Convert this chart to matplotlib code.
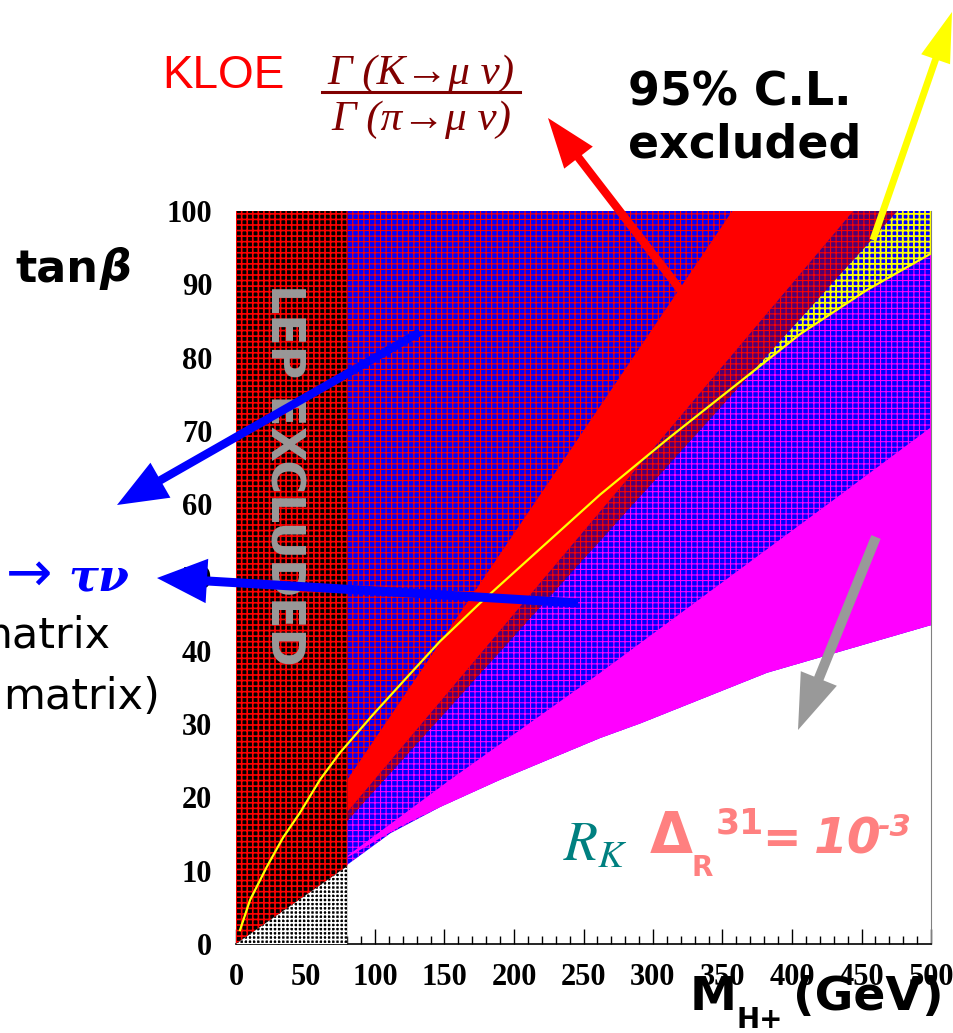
import matplotlib
matplotlib.use('Agg')
import matplotlib.pyplot as plt
import numpy as np
from matplotlib.lines import Line2D
from matplotlib.ticker import MultipleLocator

W, H = 954, 1033

# region boundaries in (M_H+ [GeV], tan beta)
lep_floor_x = [0, 80]
lep_floor_y = [0, 10.6]

kloe_left_x = [80, 357]
kloe_left_y = [22.4, 100]
kloe_right_x = [80, 444]
kloe_right_y = [18.0, 100]

split_x = [80, 476]
split_y = [16.8, 100]

rk_low_x = [80, 111, 147, 190, 219, 262, 291, 382, 500]
rk_low_y = [10.8, 15.1, 18.7, 22.4, 24.7, 28.1, 30.1, 37.0, 43.5]
pink_low_x = [80, 118, 147, 190, 219, 262, 291, 382, 500]
pink_low_y = [11.8, 16.0, 18.7, 22.4, 24.7, 28.1, 30.1, 37.0, 43.5]
pink_up_x = [80, 154, 262, 430, 500]
pink_up_y = [12.0, 22.4, 37.0, 60.6, 70.5]

yel_top_x = [367, 476, 500]
yel_top_y = [77.1, 100, 100]

btau_x = np.array([2.9, 10.1, 22.1, 33.8, 46, 60.4, 74.8, 98.6, 122.6, 146.8,
                   175.5, 261.9, 309.9, 357.9, 405.8, 453.7, 500])
btau_y = np.array([1.9, 6.0, 10.5, 14.5, 17.9, 22.4, 26.1, 31.3, 36.3, 41.3,
                   46.5, 61.3, 68.8, 76.0, 83.2, 89.2, 94.2])

x_ticks = np.arange(0, 501, 50)
y_ticks = np.arange(0, 101, 10)

plt.rcParams['mathtext.fontset'] = 'stix'

fig = plt.figure(figsize=(W / 100, H / 100), dpi=100)
ax = fig.add_axes([236 / W, 89 / H, 695 / W, 733 / H])
ax.set_xlim(0, 500)
ax.set_ylim(0, 100)


def region(xs, ys, face, hatch_col, z, hatch='+++', hlw=0.8):
    with plt.rc_context({'hatch.linewidth': hlw}):
        ax.fill(xs, ys, facecolor=face, edgecolor=hatch_col, hatch=hatch,
                lw=0, zorder=z)


# blue areas with the different hatchings
region(rk_low_x + [500, 80], rk_low_y + [100, 100], '#0000ff', '#ff00ff', 3.0)
region(split_x + [80], split_y + [100], '#0000ff', '#ff0000', 3.1)
region(split_x + kloe_right_x[::-1], split_y + kloe_right_y[::-1],
       '#500070', '#ff0000', 3.2)
sel = btau_x > yel_top_x[0]
region(yel_top_x + list(btau_x[sel][::-1]), yel_top_y + list(btau_y[sel][::-1]),
       '#0000ff', '#ffff00', 3.3, hlw=1.3)

# R_K band
ax.fill(pink_up_x + pink_low_x[::-1], pink_up_y + pink_low_y[::-1],
        color='#ff00ff', lw=0, zorder=3.4)

# KLOE band
ax.fill(kloe_left_x + kloe_right_x[::-1], kloe_left_y + kloe_right_y[::-1],
        color='#ff0000', lw=0, zorder=3.5)

# LEP exclusion
region(lep_floor_x + [80, 0], lep_floor_y + [100, 100], '#000000', '#ff0000',
       3.6, hlw=1.2)
region(lep_floor_x + [80], lep_floor_y + [0], '#000000', '#ffffff', 3.6,
       hatch='++++', hlw=1.2)

# B -> tau nu curve
ax.plot(btau_x, btau_y, color='#ffff00', lw=1.6, zorder=4)

ax.text(34, 64, 'LEP EXCLUDED', rotation=270, ha='center', va='center',
        color='#999999', fontsize=33, fontweight='bold', zorder=5)

# axes cosmetics
ax.set_xticks(x_ticks)
ax.set_yticks(y_ticks)
ax.xaxis.set_minor_locator(MultipleLocator(10))
ax.tick_params(axis='x', which='major', direction='in', length=11, width=1,
               pad=14, labelsize=22)
ax.tick_params(axis='x', which='minor', direction='in', length=6, width=1)
ax.tick_params(axis='y', length=0, pad=17, labelsize=22)
for lbl in ax.get_xticklabels() + ax.get_yticklabels():
    lbl.set_family('Liberation Serif')
    lbl.set_fontweight('bold')
ax.spines['top'].set_visible(False)
ax.spines['left'].set_visible(False)
ax.spines['right'].set_color('#808080')
ax.spines['bottom'].set_linewidth(1.2)


def ftext(x, y, s, **kw):
    fig.text(x / W, 1 - y / H, s, **kw)


serif = ['Liberation Serif', 'DejaVu Serif']
dark_red = '#800000'
ftext(162, 76, 'KLOE', color='#ff0000', fontsize=33, va='center',
      family='Liberation Sans')
ftext(421, 74, 'Γ (K→μ ν)', color=dark_red, fontsize=31, ha='center',
      va='center', family=serif, style='italic')
ftext(421, 120, 'Γ (π→μ ν)', color=dark_red, fontsize=31, ha='center',
      va='center', family=serif, style='italic')
fig.add_artist(Line2D([322 / W, 520 / W], [1 - 92 / H, 1 - 92 / H],
                      color=dark_red, lw=2.2))

ftext(628, 93, '95% C.L.', fontsize=33, fontweight='bold', va='center')
ftext(628, 145, 'excluded', fontsize=33, fontweight='bold', va='center')

ftext(15, 270, 'tan', fontsize=32, fontweight='bold', va='center')
ftext(100, 268, 'β', fontsize=32, fontweight='bold', style='italic', va='center')

ftext(6, 576, '→', fontsize=40, color='#0000ff', va='center')
ftext(68, 578, 'τν', fontsize=32, color='#0000ff', va='center',
      family='DejaVu Serif', fontweight='bold', style='italic')
ftext(110, 636, 'matrix', fontsize=31, ha='right', va='center')
ftext(160, 697, 'matrix)', fontsize=31, ha='right', va='center')

ftext(563, 845, r'$R_K$', color='#008080', fontsize=40, va='center')
pink = '#ff8080'
ftext(650, 838, 'Δ', color=pink, fontsize=40, fontweight='bold', va='center')
ftext(692, 868, 'R', color=pink, fontsize=20, fontweight='bold', va='center')
ftext(716, 823, '31', color=pink, fontsize=25, fontweight='bold', va='center')
ftext(762, 840, '=', color=pink, fontsize=33, fontweight='bold', va='center')
ftext(814, 840, '10', color=pink, fontsize=35, fontweight='bold',
      style='italic', va='center')
ftext(877, 828, '-3', color=pink, fontsize=22, fontweight='bold',
      style='italic', va='center')

ftext(690, 998, 'M', fontsize=34, fontweight='bold', va='center')
ftext(737, 1020, 'H+', fontsize=20, fontweight='bold', va='center')
ftext(793, 998, '(GeV)', fontsize=34, fontweight='bold', va='center')


def arrow(start, tip, color, tail, hw, hl):
    ax.annotate('', xy=(tip[0], H - tip[1]), xycoords='figure pixels',
                xytext=(start[0], H - start[1]), textcoords='figure pixels',
                annotation_clip=False, zorder=10,
                arrowprops=dict(arrowstyle=f'simple,head_length={hl},'
                                f'head_width={hw},tail_width={tail}',
                                color=color, lw=0, mutation_scale=10,
                                shrinkA=0, shrinkB=0))


arrow((682, 292), (548, 118), '#ff0000', 0.6, 2.6, 3.6)
arrow((873, 240), (952, 12), '#ffff00', 0.5, 2.2, 3.6)
arrow((420, 332), (117, 505), '#0000ff', 0.6, 2.9, 3.6)
arrow((578, 603), (157, 578), '#0000ff', 0.65, 3.2, 3.6)
arrow((876, 537), (798, 730), '#999999', 0.72, 2.8, 4.0)

fig.savefig('out.png', dpi=100)
